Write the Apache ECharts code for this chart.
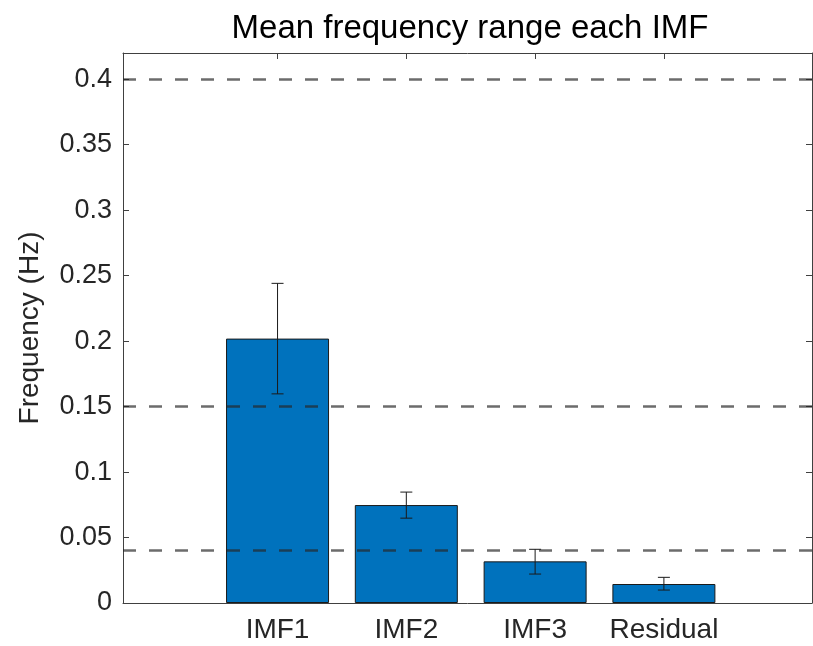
<!DOCTYPE html>
<html>
<head>
<meta charset="utf-8">
<title>Mean frequency range each IMF</title>
<script src="https://cdn.jsdelivr.net/npm/echarts@6/dist/echarts.min.js"></script>
<style>
  html, body { margin: 0; padding: 0; background: #fff; }
  #main { width: 813px; height: 646px; }
</style>
</head>
<body>
<div id="main"></div>
<script>
// 数据
var categories = ['IMF1', 'IMF2', 'IMF3', 'Residual']
var xPos = [1, 2, 3, 4]
var meanFreq = [0.2019, 0.0748, 0.0318, 0.0145]
var errLow = [0.1597, 0.0648, 0.0221, 0.0099]
var errHigh = [0.2441, 0.0847, 0.0410, 0.0196]
var bandLines = [0.4, 0.15, 0.04]
var yTicks = [0, 0.05, 0.1, 0.15, 0.2, 0.25, 0.3, 0.35, 0.4]
var yTickLabels = ['0', '0.05', '0.1', '0.15', '0.2', '0.25', '0.3', '0.35', '0.4']

var axisColor = '#404040', textColor = '#262626'
var fontName = 'Liberation Sans, Arial, sans-serif'

var barData = [], errData = []
for (let i = 0; i < xPos.length; i++) {
  barData.push([xPos[i], meanFreq[i]])
  errData.push([xPos[i], errLow[i], errHigh[i]])
}

var chart = echarts.init(document.getElementById('main'))

//误差线
function renderError(params, api) {
  let x = api.value(0)
  let lo = api.coord([x, api.value(1)])
  let hi = api.coord([x, api.value(2)])
  let cap = 6
  let style = { stroke: '#1a1a1a', lineWidth: 1 }
  return {
    type: 'group',
    children: [
      { type: 'line', shape: { x1: lo[0], y1: lo[1], x2: hi[0], y2: hi[1] }, style: style },
      { type: 'line', shape: { x1: hi[0] - cap, y1: hi[1], x2: hi[0] + cap, y2: hi[1] }, style: style },
      { type: 'line', shape: { x1: lo[0] - cap, y1: lo[1], x2: lo[0] + cap, y2: lo[1] }, style: style }
    ]
  }
}

var option = {
  animation: false,
  backgroundColor: '#fff',
  title: {
    text: 'Mean frequency range each IMF',
    left: 465,
    textAlign: 'center',
    top: 7,
    textStyle: { fontFamily: fontName, fontSize: 33, fontWeight: 'normal', color: '#000' }
  },
  grid: { left: 123, right: 1, top: 53, bottom: 43 },
  xAxis: [{
    type: 'value',
    min: -0.2,
    max: 5.15,
    position: 'bottom',
    splitLine: { show: false },
    axisLine: { show: true, onZero: false, lineStyle: { color: axisColor, width: 1 } },
    axisTick: { show: true, inside: true, length: 6, customValues: xPos, lineStyle: { color: axisColor } },
    axisLabel: {
      customValues: xPos,
      margin: 13,
      fontFamily: fontName, fontSize: 28, color: textColor,
      formatter: function (v) { return categories[Math.round(v) - 1] }
    }
  }, {
    type: 'value',
    min: -0.2,
    max: 5.15,
    position: 'top',
    splitLine: { show: false },
    axisLine: { show: true, onZero: false, lineStyle: { color: axisColor, width: 1 } },
    axisTick: { show: true, inside: true, length: 6, customValues: xPos, lineStyle: { color: axisColor } },
    axisLabel: { show: false }
  }],
  yAxis: [{
    type: 'value',
    min: 0,
    max: 0.42,
    position: 'left',
    name: 'Frequency (Hz)',
    nameLocation: 'middle',
    nameGap: 79,
    nameTextStyle: { fontFamily: fontName, fontSize: 28, color: textColor },
    splitLine: { show: false },
    axisLine: { show: true, onZero: false, lineStyle: { color: axisColor, width: 1 } },
    axisTick: { show: true, inside: true, length: 6, customValues: yTicks, lineStyle: { color: axisColor } },
    axisLabel: {
      customValues: yTicks,
      margin: 11,
      fontFamily: fontName, fontSize: 27, color: textColor,
      formatter: function (v) { return yTickLabels[Math.round(v / 0.05)] }
    }
  }, {
    type: 'value',
    min: 0,
    max: 0.42,
    position: 'right',
    splitLine: { show: false },
    axisLine: { show: true, onZero: false, lineStyle: { color: axisColor, width: 1 } },
    axisTick: { show: true, inside: true, length: 6, customValues: yTicks, lineStyle: { color: axisColor } },
    axisLabel: { show: false }
  }],
  series: [{
    type: 'bar',
    data: barData,
    barWidth: 103,
    itemStyle: { color: '#0072BD', borderColor: '#1a1a1a', borderWidth: 1 },
    markLine: {
      silent: true,
      symbol: ['none', 'none'],
      label: { show: false },
      lineStyle: { color: 'rgba(38,38,38,0.68)', width: 2.5, type: [13, 13] },
      data: bandLines.map(function (v) { return { yAxis: v } })
    },
    z: 2
  }, {
    type: 'custom',
    data: errData,
    renderItem: renderError,
    z: 4
  }]
}

chart.setOption(option)
</script>
</body>
</html>
